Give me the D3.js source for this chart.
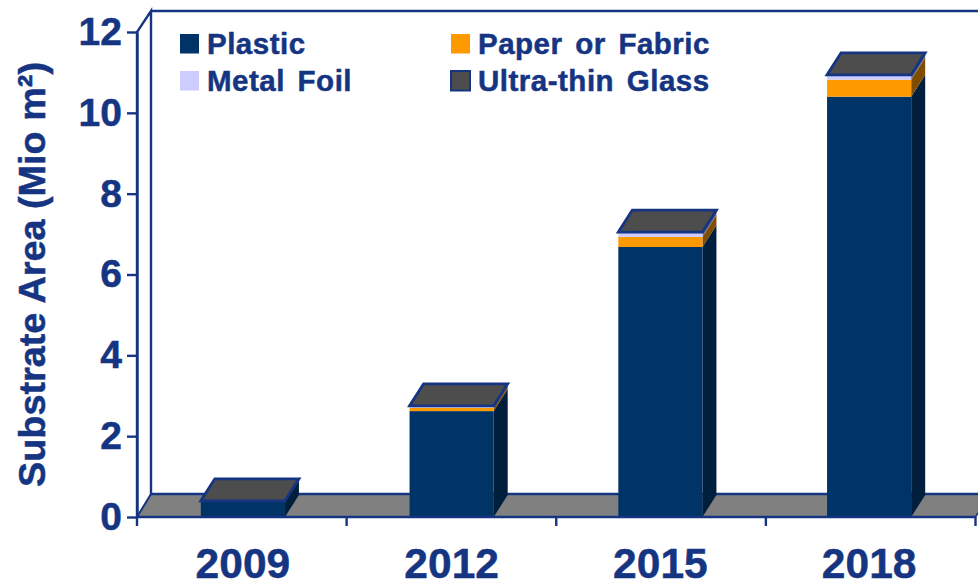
<!DOCTYPE html>
<html><head><meta charset="utf-8">
<style>html,body{margin:0;padding:0;background:#fff;overflow:hidden}svg{display:block}text{font-family:"Liberation Sans",Arial,sans-serif;font-weight:700;fill:#153582;stroke:#153582;stroke-width:0.5px}</style>
<script src="https://cdn.jsdelivr.net/npm/d3@7"></script>
</head><body><svg id="c" width="978" height="582"></svg>
<script>
const years = ["2009","2012","2015","2018"];
const seriesNames = ["Plastic","Paper or Fabric","Metal Foil","Ultra-thin Glass"];
const plastic = [0.38,2.62,6.68,10.4];
const paper = [0,0.08,0.25,0.42];
const metal = [0,0.03,0.1,0.1];
const glass = [0.02,0.02,0.02,0.02];
const frontColors = ["#003366","#ff9900","#ccccff","#4d4d4d"];
const sideColors = ["#001f3d","#7f4c00","#66667f","#262626"];
const yTicks = [0,2,4,6,8,10,12];
const legendOrder = [["Plastic",0,0],["Paper or Fabric",1,0],["Metal Foil",0,1],["Ultra-thin Glass",1,1]];
const ink = "#153582";
const dx = 14, dy = -22;

const svg = d3.select("#c");
const x = d3.scaleBand().domain(years).range([138.5,973.5]).paddingInner(0.597).paddingOuter(0.2985);
const xEdge = d3.scaleLinear().domain([0,4]).range([137,975.5]);
const y = d3.scaleLinear().domain([0,12]).range([517,32]);
const line = d3.line();
const poly = p => line(p)+"Z";
const backX = xEdge(0)+14, backTop = y(12)-21, backFloor = y(0)-23;

// floor
svg.append("path").attr("d",poly([[xEdge(0),y(0)],[backX,backFloor],[990,backFloor],[xEdge(4),y(0)]])).attr("fill","#808080");
// walls
const wall = (p,sw=2.4)=>svg.append("path").attr("fill","none").attr("stroke",ink).attr("stroke-width",sw).attr("d",line(p));
wall([[xEdge(0),y(0)],[xEdge(0),y(12)],[backX,backTop],[backX,backFloor],[978,backFloor]]);
wall([[backX,backTop],[978,backTop]]);
wall([[xEdge(0),y(0)],[backX,backFloor]],2);
wall([[xEdge(4),y(0)],[978,y(0)-4]],1.5);

// bars
const stacks = [plastic,paper,metal,glass];
years.forEach((yr,i)=>{
  const x0 = x(yr), w = x.bandwidth();
  let base = 0;
  stacks.forEach((s,k)=>{
    const v = s[i];
    if(v<=0) return;
    const y0=y(base), y1=y(base+v);
    svg.append("path").attr("d",poly([[x0+w,y0],[x0+w+dx,y0+dy],[x0+w+dx,y1+dy],[x0+w,y1]])).attr("fill",sideColors[k]);
    svg.append("rect").attr("x",x0).attr("y",y1).attr("width",w).attr("height",y0-y1).attr("fill",frontColors[k]);
    base += v;
  });
  const t = y(base);
  svg.append("path").attr("d",poly([[x0,t],[x0+dx,t+dy],[x0+w+dx,t+dy],[x0+w,t]]))
    .attr("fill",frontColors[3]).attr("stroke",ink).attr("stroke-width",2.8).attr("stroke-linejoin","miter");
});

// axes
const yAxis = d3.axisLeft(y).tickValues(yTicks).tickSize(10).tickPadding(5).tickSizeOuter(0);
const gy = svg.append("g").attr("transform",`translate(${xEdge(0)},0)`).call(yAxis);
gy.select(".domain").attr("stroke",ink).attr("stroke-width",2.4);
gy.selectAll("line").attr("stroke",ink).attr("stroke-width",2.4);
gy.selectAll("text").attr("font-size",39).attr("font-family","Liberation Sans").attr("font-weight",700);

const xAxis = d3.axisBottom(x).tickSize(0).tickPadding(31);
const gx = svg.append("g").attr("transform",`translate(0,${y(0)})`).call(xAxis);
gx.select(".domain").remove();
gx.selectAll("text").attr("font-size",42.5).attr("font-family","Liberation Sans").attr("font-weight",700);
svg.append("path").attr("d",line([[xEdge(0),y(0)],[xEdge(4),y(0)]])).attr("stroke",ink).attr("stroke-width",2.4);
svg.selectAll(".xt").data(d3.range(5)).join("line").attr("class","xt")
  .attr("x1",i=>xEdge(i)).attr("x2",i=>xEdge(i)).attr("y1",y(0)).attr("y2",y(0)+9)
  .attr("stroke",ink).attr("stroke-width",2.4);

// title
svg.append("text").attr("transform","translate(45,274.5) rotate(-90)").attr("text-anchor","middle")
  .attr("font-size",37.8).text("Substrate Area (Mio m²)");

// legend
const lg = svg.append("g");
legendOrder.forEach(([name,c,r])=>{
  const idx = seriesNames.indexOf(name);
  const gx0 = 180 + c*271, gy0 = 34 + r*37;
  lg.append("rect").attr("x",gx0).attr("y",gy0).attr("width",19).attr("height",19.5)
    .attr("fill",frontColors[idx])
    .attr("stroke",idx===3?ink:"none").attr("stroke-width",idx===3?2:0);
  lg.append("text").attr("x",gx0+27).attr("y",gy0+19.5).attr("font-size",29.5).attr("letter-spacing",0.5).attr("word-spacing",4).text(name);
});
</script></body></html>
